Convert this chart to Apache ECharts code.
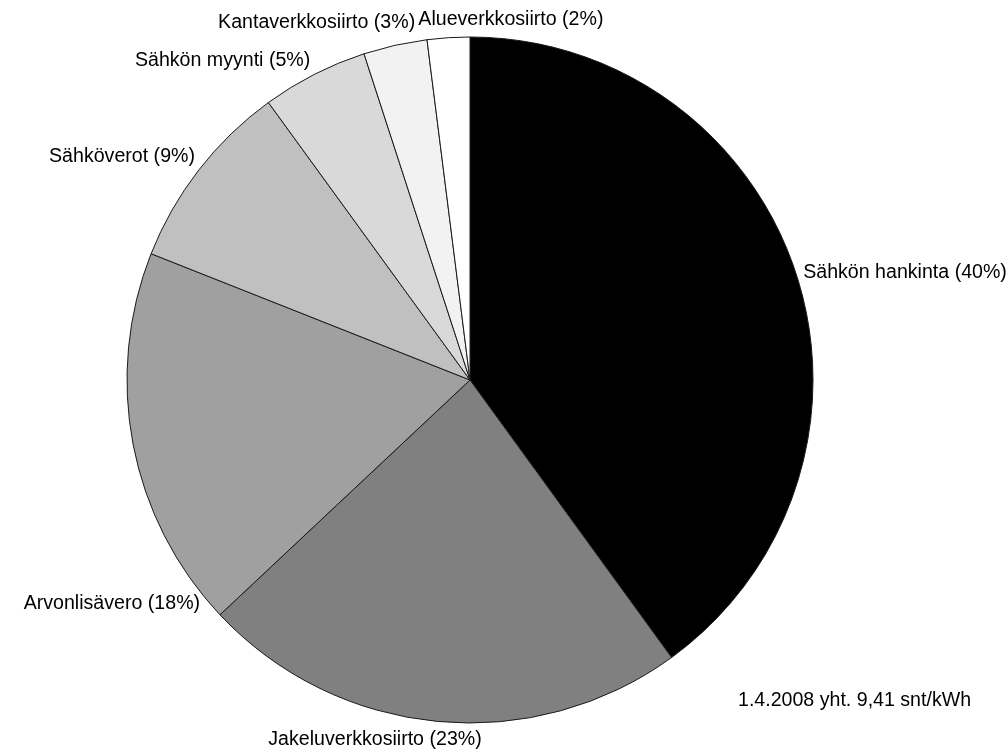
<!DOCTYPE html>
<html>
<head>
<meta charset="utf-8">
<script src="https://cdn.jsdelivr.net/npm/echarts@6/dist/echarts.min.js"></script>
<style>
  html, body { margin: 0; padding: 0; background: #fff; }
  #chart { width: 1008px; height: 749px; }
</style>
</head>
<body>
<div id="chart"></div>
<script>
// Sähkön hinnan rakenne (osuudet prosentteina), myötäpäivään klo 12:sta
const categories = [
  'Sähkön hankinta',
  'Jakeluverkkosiirto',
  'Arvonlisävero',
  'Sähköverot',
  'Sähkön myynti',
  'Kantaverkkosiirto',
  'Alueverkkosiirto'
];
const shares = [40, 23, 18, 9, 5, 3, 2];
const sliceColors = ['#000000', '#808080', '#a0a0a0', '#c0c0c0', '#d9d9d9', '#f2f2f2', '#ffffff'];
const footnote = '1.4.2008 yht. 9,41 snt/kWh';

// Label nudges (px) relative to the default outside label anchor
const labelNudge = [
  [2, -1],
  [49, 18],
  [72, 159],
  [1, -13],
  [1, -14],
  [25, -23],
  [160, -18]
];

const FONT = 'Liberation Sans, Arial, sans-serif';
const FONT_SIZE = 19.6;

const chart = echarts.init(document.getElementById('chart'), null, { renderer: 'canvas' });

chart.setOption({
  backgroundColor: '#ffffff',
  animation: false,
  textStyle: { fontFamily: FONT },
  title: {
    text: footnote,
    left: 733,
    top: 686,
    textStyle: { fontFamily: FONT, fontSize: FONT_SIZE, fontWeight: 'normal', color: '#000' }
  },
  series: [{
    type: 'pie',
    center: [470, 380],
    radius: [0, 343],
    startAngle: 90,
    clockwise: true,
    avoidLabelOverlap: false,
    data: categories.map((name, i) => ({
      name,
      value: shares[i],
      itemStyle: { color: sliceColors[i] }
    })),
    itemStyle: { borderColor: '#1a1a1a', borderWidth: 1 },
    emphasis: { disabled: true },
    label: {
      show: true,
      position: 'outside',
      formatter: p => `${p.name} (${p.value}%)`,
      fontFamily: FONT,
      fontSize: FONT_SIZE,
      color: '#000',
      distanceToLabelLine: 5
    },
    labelLine: { show: false, length: 0, length2: 0 },
    labelLayout: params => ({
      dx: labelNudge[params.dataIndex][0],
      dy: labelNudge[params.dataIndex][1]
    })
  }]
});
</script>
</body>
</html>
